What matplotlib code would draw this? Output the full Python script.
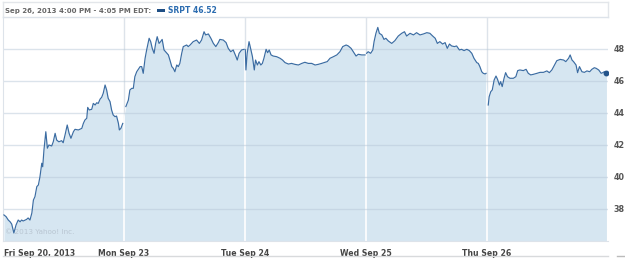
import matplotlib
matplotlib.use("Agg")
import matplotlib.pyplot as plt
from matplotlib.patches import Rectangle
from matplotlib.lines import Line2D
import numpy as np

# ---- data (minutes since 9:30 open, price) ----
day_labels = ["Fri Sep 20, 2013", "Mon Sep 23", "Tue Sep 24", "Wed Sep 25", "Thu Sep 26"]
session_minutes = 390

fri_t = [3,10,17,23,28,35,42,49,55,60,65,76,81,87,93,98,103,109,114,119,125,128,132,138,143,148,157,162,168,173,
         180,189,194,200,207,213,219,227,232,243,254,259,264,270,273,278,286,291,297,302,307,313,318,323,329,334,339,345,350,355,
         361,366,372,375,380,386]
fri_p = [37.63,37.52,37.31,37.20,37.06,36.50,37.00,37.31,37.20,37.31,37.25,37.35,37.44,37.31,37.75,38.56,38.77,39.40,39.50,40.00,
         40.86,40.64,41.69,42.83,41.80,42.00,41.94,42.20,42.73,42.31,42.20,42.27,42.14,42.63,43.25,42.73,42.42,42.83,42.98,42.94,
         43.04,43.35,43.56,43.67,44.35,44.19,44.23,44.60,44.50,44.64,44.60,44.87,44.98,45.23,45.75,45.44,44.92,44.71,44.19,43.88,
         43.77,43.81,43.35,42.94,43.04,43.35]

mon_t = [6,14,19,25,30,35,41,52,57,62,68,73,81,86,91,97,102,107,113,118,123,129,134,143,148,154,159,164,170,175,
         180,186,191,202,207,213,223,234,243,250,258,263,272,280,288,296,304,309,320,329,336,344,352,361,365,371,379,387]
mon_p = [44.40,44.80,45.44,45.54,45.54,46.27,46.58,46.90,46.90,46.48,47.42,47.94,48.67,48.46,48.04,47.73,48.35,48.77,48.35,48.46,
         48.60,47.94,47.83,47.63,47.31,46.90,46.79,46.58,47.00,46.90,47.10,47.73,48.15,48.25,48.15,48.25,48.46,48.56,48.35,48.56,
         49.08,48.88,48.94,48.67,48.35,48.15,48.40,48.60,48.56,48.40,48.04,47.83,47.94,47.52,47.31,47.73,47.94,47.98]

tue_t = [1,3,7,13,18,24,27,30,34,40,45,51,56,61,68,73,78,84,91,102,113,121,129,140,150,161,172,183,193,204,215,
         226,236,247,258,265,274,285,296,306,315,326,333,342,349,358,365,376,387]
tue_p = [47.95,46.69,47.73,48.46,48.04,47.52,47.10,46.69,47.31,47.00,47.21,47.00,47.10,47.42,47.98,47.77,47.94,47.63,47.56,47.52,47.42,
         47.31,47.15,47.06,47.10,47.04,47.00,47.10,47.17,47.10,47.10,47.00,47.04,47.10,47.17,47.21,47.42,47.52,47.63,47.83,48.15,
         48.25,48.19,48.04,47.83,47.56,47.67,47.63,47.63]

wed_t = [2,7,15,22,26,32,38,43,51,58,64,72,83,93,104,115,124,131,142,153,163,174,185,196,206,215,223,230,238,247,
         255,262,269,276,285,292,301,308,316,325,333,341,348,357,362,367,373,378,384,387]
wed_p = [47.73,47.83,47.73,47.94,48.46,48.98,49.35,48.98,48.88,48.60,48.67,48.50,48.35,48.52,48.81,48.98,49.08,48.81,48.98,48.88,
         49.02,48.88,48.94,49.02,48.98,48.81,48.67,48.35,48.46,48.31,48.40,48.04,48.31,48.19,48.15,48.19,47.94,47.98,47.90,47.98,
         47.90,47.73,47.42,47.15,47.10,46.90,46.58,46.48,46.44,46.48]

thu_t = [4,7,12,17,23,29,34,40,44,49,55,60,66,74,85,93,99,106,117,126,133,141,150,161,171,182,193,201,209,216,
         225,236,247,254,263,268,274,279,287,292,298,306,314,322,331,338,346,352,360,368,373,378,385]
thu_p = [44.50,45.02,45.33,45.44,46.06,46.31,46.10,45.75,45.96,45.65,46.17,46.52,46.27,46.17,46.17,46.27,46.65,46.69,46.65,46.73,
         46.48,46.38,46.42,46.48,46.54,46.54,46.63,46.52,46.69,46.94,47.27,47.35,47.31,47.21,47.42,47.63,47.31,47.21,47.00,46.52,
         46.90,46.58,46.54,46.63,46.58,46.73,46.83,46.79,46.69,46.48,46.52,46.58,46.52]

y_ticks = [38, 40, 42, 44, 46, 48]
header_text = "Sep 26, 2013 4:00 PM - 4:05 PM EDT:"
legend_text = "SRPT 46.52"
copyright_text = "\u00a9 2013 Yahoo! Inc."

days_t = [fri_t, mon_t, tue_t, wed_t, thu_t]
days_p = [fri_p, mon_p, tue_p, wed_p, thu_p]
xs = [np.array(t, float) + i * session_minutes for i, t in enumerate(days_t)]
ys = [np.array(p, float) for p in days_p]
x = np.concatenate(xs)
y = np.concatenate(ys)

# ---- figure ----
W, H = 625, 258
fig = plt.figure(figsize=(W / 100, H / 100), dpi=100)
ax = fig.add_axes([3 / W, (H - 241) / H, 605 / W, 224 / H])

line_c = "#3b6ca2"
fill_c = "#d6e6f1"
ymin, ymax = 36, 50
xmax = 5 * session_minutes
ax.set_xlim(0, xmax)
ax.set_ylim(ymin, ymax)

# vertical day lines (gray above fill)
for i in range(1, 5):
    ax.axvline(i * session_minutes, color="#dde3ea", lw=1.0, zorder=0.5)

fill = ax.fill_between(x, y, ymin, color=fill_c, lw=0, zorder=1)

# white vertical lines inside the fill
clip_path = fill.get_paths()[0]
for i in range(1, 5):
    vl = ax.axvline(i * session_minutes, color="white", lw=1.2, zorder=1.5)
    vl.set_clip_path(clip_path, transform=ax.transData)

# horizontal grid
for yt in y_ticks:
    ax.axhline(yt, color="#b8c8d8", lw=1.0, alpha=0.5, zorder=2)

for dx, dy in zip(xs, ys):
    ax.plot(dx, dy, color=line_c, lw=0.85, zorder=3)
ax.plot(x[-1], y[-1], "o", color="#24548a", ms=3.2, zorder=4)

# axes styling
ax.set_yticks(y_ticks)
ax.yaxis.tick_right()
ax.tick_params(axis="y", length=0, pad=4, labelsize=5.8, labelcolor="#555555")
for lab in ax.get_yticklabels():
    lab.set_fontweight("bold")
ax.set_xticks([])
for s in ["top", "right"]:
    ax.spines[s].set_visible(False)
ax.spines["left"].set_color("#dde3ea")
ax.spines["bottom"].set_color("#dde3ea")

# day labels
for i, lab in enumerate(day_labels):
    xx = i * session_minutes
    ha = "left" if i == 0 else "center"
    if i == 0:
        xx = 3
    ax.text(xx, -0.035, lab, transform=ax.get_xaxis_transform(), ha=ha, va="top",
            fontsize=5.6, fontweight="bold", color="#444444")

# copyright
ax.text(8, 36.35, copyright_text, fontsize=5.2, color="#b9c6d2", ha="left", va="bottom", zorder=2.5)

# header box
fig.add_artist(Line2D([3 / W, 608 / W], [(H - 2) / H, (H - 2) / H], color="#e3e6ea", lw=1.0))
fig.add_artist(Line2D([608 / W, 608 / W], [(H - 2) / H, (H - 17) / H], color="#e3e6ea", lw=1.0))
fig.add_artist(Line2D([3 / W, 3 / W], [(H - 2) / H, (H - 17) / H], color="#e3e6ea", lw=1.0))
fig.add_artist(Line2D([3 / W, 608 / W], [(H - 17) / H, (H - 17) / H], color="#dde3ea", lw=1.0))
fig.text(5 / W, (H - 10.5) / H, header_text, fontsize=5.0, fontweight="bold", color="#666666", ha="left", va="center")
fig.add_artist(Rectangle((157 / W, (H - 11.8) / H), 8 / W, 2.6 / H, color="#1f4f85", lw=0))
fig.text(168 / W, (H - 10.5) / H, legend_text, fontsize=5.5, fontweight="bold", color="#2b6cb0", ha="left", va="center")

# bottom rule
fig.add_artist(Line2D([3 / W, 608 / W], [(H - 255.5) / H, (H - 255.5) / H], color="#d8dadc", lw=1.0))
fig.add_artist(Line2D([617 / W, 625 / W], [(H - 256) / H, (H - 256) / H], color="#bbbbbb", lw=1.0))

fig.savefig("out.png", dpi=100)
